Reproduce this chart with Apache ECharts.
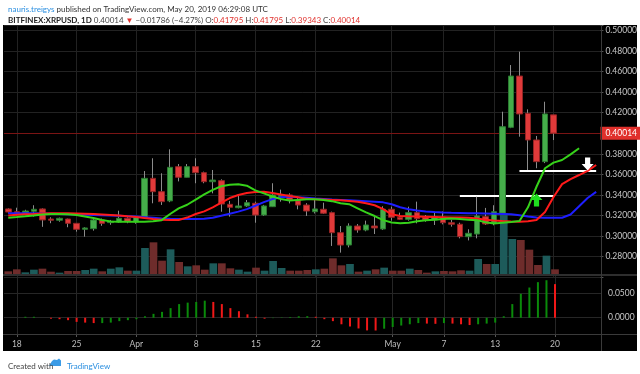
<!DOCTYPE html>
<html><head><meta charset="utf-8">
<script src="https://cdn.jsdelivr.net/npm/echarts@6/dist/echarts.min.js"></script>
<style>html,body{margin:0;padding:0;background:#fff}#c{width:640px;height:374px}</style>
</head><body><div id="c"></div>
<script>
// ---- categories (daily, incl. empty future days for the shifted Alligator lines)
const dates = ['Mar 17','Mar 18','Mar 19','Mar 20','Mar 21','Mar 22','Mar 23','Mar 24','Mar 25','Mar 26','Mar 27','Mar 28','Mar 29','Mar 30','Mar 31',
'Apr 1','Apr 2','Apr 3','Apr 4','Apr 5','Apr 6','Apr 7','Apr 8','Apr 9','Apr 10','Apr 11','Apr 12','Apr 13','Apr 14','Apr 15','Apr 16','Apr 17','Apr 18','Apr 19','Apr 20','Apr 21','Apr 22','Apr 23','Apr 24','Apr 25','Apr 26','Apr 27','Apr 28','Apr 29','Apr 30',
'May 1','May 2','May 3','May 4','May 5','May 6','May 7','May 8','May 9','May 10','May 11','May 12','May 13','May 14','May 15','May 16','May 17','May 18','May 19','May 20','May 21','May 22','May 23','May 24','May 25'];
const tickDates  = ['Mar 18','Mar 25','Apr 1','Apr 8','Apr 15','Apr 22','May 1','May 7','May 13','May 20'];
const tickLabels = ['18','25','Apr','8','15','22','May','7','13','20'];

// ---- OHLC (Mar 17 .. May 20)
const opens  = [0.3264,0.3237,0.3224,0.3241,0.3264,0.3166,0.3154,0.3166,0.3124,0.3066,0.3072,0.3157,0.3131,0.3137,0.3173,
0.3137,0.3179,0.3562,0.3432,0.3342,0.3675,0.3572,0.3675,0.3617,0.3529,0.3539,0.3309,0.3276,0.3293,0.3319,0.3205,0.3286,0.3384,0.3400,0.3344,0.3302,0.3237,0.3261,0.3228,0.3033,0.2913,0.3098,0.3059,0.3098,0.3069,
0.3261,0.3183,0.3163,0.3228,0.3183,0.3157,0.3183,0.3130,0.3115,0.2994,0.3020,0.3189,0.3124,0.3222,0.4058,0.4557,0.4194,0.3935,0.3724,0.41795];
const closes = [0.3234,0.3224,0.3244,0.3261,0.3157,0.3154,0.3173,0.3124,0.3066,0.3079,0.3157,0.3124,0.3144,0.3173,0.3140,
0.3183,0.3562,0.3432,0.3335,0.3669,0.3572,0.3675,0.3617,0.3529,0.3545,0.3312,0.3280,0.3293,0.3325,0.3205,0.3293,0.3400,0.3400,0.3351,0.3302,0.3244,0.3264,0.3222,0.3033,0.2913,0.3098,0.3059,0.3108,0.3079,0.3261,
0.3183,0.3163,0.3228,0.3169,0.3157,0.3189,0.3130,0.3115,0.2994,0.3027,0.3196,0.3118,0.3237,0.4064,0.4557,0.4188,0.3935,0.3724,0.4188,0.40014];
const highs  = [0.3270,0.3276,0.3256,0.3300,0.3270,0.3183,0.3180,0.3170,0.3126,0.3086,0.3169,0.3170,0.3157,0.3247,0.3183,
0.3195,0.3633,0.3757,0.3611,0.3844,0.3701,0.3701,0.3757,0.3627,0.3643,0.3552,0.3342,0.3400,0.3351,0.3335,0.3303,0.3514,0.3452,0.3416,0.3370,0.3320,0.3358,0.3325,0.3238,0.3098,0.3124,0.3117,0.3150,0.3189,0.3290,
0.3286,0.3228,0.3286,0.3335,0.3205,0.3237,0.3240,0.3157,0.3130,0.3066,0.3383,0.3274,0.3300,0.4210,0.4664,0.4794,0.4233,0.3974,0.4307,0.41795];
const lows   = [0.3220,0.3202,0.3214,0.3190,0.3090,0.3125,0.3140,0.3086,0.3043,0.2994,0.3053,0.3100,0.3110,0.3130,0.3125,
0.3120,0.3173,0.3319,0.3303,0.3330,0.3532,0.3572,0.3514,0.3514,0.3416,0.3237,0.3189,0.3270,0.3283,0.3130,0.3196,0.3283,0.3335,0.3318,0.3260,0.3196,0.3220,0.3215,0.2904,0.2839,0.2890,0.3033,0.3047,0.3020,0.3059,
0.3150,0.3157,0.3150,0.3124,0.3140,0.3108,0.3114,0.3092,0.2978,0.2958,0.2978,0.3108,0.3105,0.3210,0.4050,0.3967,0.3643,0.3660,0.3710,0.39343];
const volumes = [8,14,5,13,16,7,4,9,9,12,16,8,16,20,10,
10,78,95,40,74,36,23,26,13,32,32,17,13,7,19,10,39,18,10,10,12,14,16,47,26,30,7,10,14,19,
10,10,16,12,4,8,9,8,11,10,45,30,30,182,105,102,73,27,55,14];
// ---- Awesome Oscillator
const ao = [null,null,0.002,0.002,0,-0.002,-0.003,-0.005,-0.0085,-0.010,-0.011,-0.011,-0.010,-0.007,-0.005,
-0.003,0.003,0.008,0.012,0.0197,0.028,0.031,0.0324,0.035,0.0324,0.028,0.0197,0.0134,0.007,0.002,-0.002,-0.0008,0.0008,0.0015,0.003,0.0032,0.002,-0.003,-0.007,-0.0134,-0.018,-0.022,-0.026,-0.0262,-0.0225,
-0.019,-0.016,-0.0134,-0.011,-0.012,-0.0125,-0.011,-0.012,-0.0134,-0.015,-0.0134,-0.012,-0.010,0.003,0.028,0.049,0.062,0.073,0.077,0.069];
// ---- Alligator lines (shifted forward)
const lips  = [0.3179,0.3185,0.3192,0.3200,0.3210,0.3215,0.3216,0.3212,0.3205,0.3190,0.3175,0.3157,0.3143,0.3140,0.3140,
0.3140,0.3140,0.3145,0.3155,0.3215,0.3270,0.3305,0.3355,0.3405,0.3450,0.3485,0.3500,0.3505,0.3490,0.3445,0.3415,0.3385,0.3360,0.3346,0.3352,0.3358,0.3358,0.3350,0.3340,0.3320,0.3310,0.3270,0.3230,0.3195,0.3155,
0.3132,0.3124,0.3130,0.3145,0.3155,0.3160,0.3165,0.3170,0.3165,0.3160,0.3155,0.3135,0.3122,0.3130,0.3138,0.3147,0.3280,0.3480,0.3660,0.3715,0.3740,0.3795,0.3854,null,null];
const teeth = [0.3200,0.3207,0.3213,0.3216,0.3220,0.3222,0.3222,0.3221,0.3220,0.3218,0.3214,0.3210,0.3205,0.3200,0.3192,
0.3185,0.3175,0.3166,0.3160,0.3157,0.3157,0.3180,0.3215,0.3240,0.3280,0.3325,0.3370,0.3400,0.3420,0.3430,0.3432,0.3420,0.3405,0.3390,0.3378,0.3362,0.3358,0.3356,0.3352,0.3348,0.3342,0.3334,0.3320,0.3300,0.3262,
0.3212,0.3195,0.3192,0.3190,0.3188,0.3186,0.3184,0.3182,0.3180,0.3178,0.3170,0.3160,0.3152,0.3146,0.3142,0.3140,0.3145,0.3157,0.3235,0.3380,0.3505,0.3555,0.3594,0.3635,0.3692];
const jaw   = [0.3222,0.3222,0.3222,0.3221,0.3220,0.3218,0.3216,0.3213,0.3210,0.3208,0.3205,0.3202,0.3200,0.3197,0.3194,
0.3190,0.3184,0.3178,0.3172,0.3168,0.3166,0.3166,0.3166,0.3168,0.3178,0.3198,0.3218,0.3238,0.3262,0.3295,0.3330,0.3360,0.3378,0.3385,0.3378,0.3372,0.3366,0.3361,0.3356,0.3352,0.3348,0.3344,0.3340,0.3335,0.3328,
0.3310,0.3280,0.3262,0.3248,0.3240,0.3234,0.3230,0.3227,0.3225,0.3223,0.3222,0.3220,0.3218,0.3216,0.3212,0.3202,0.3190,0.3180,0.3178,0.3178,0.3178,0.3210,0.3290,0.3370,0.3430];
// ---- annotations
const lastPrice = 0.40014;
const hLines = [['May 9','May 20',0.3390],['May 16','May 25',0.3633]];
const upArrow = ['May 18',0.3351];
const downArrow = ['May 24',0.3701];

const UP='#45ad4a', DN='#e03a3a', UPB='#2b7a31', DNB='#932424';
const GL=4, GW=598;
const isTick = (i)=> tickDates.indexOf(dates[i])>=0;

const wickData = opens.map((o,i)=>[o,closes[i],lows[i],highs[i]]);
const bodyData = opens.map((o,i)=>[o,closes[i],Math.min(o,closes[i]),Math.max(o,closes[i])]);
const volData = volumes.map((v,i)=>({value:v,itemStyle:{color: closes[i]>=opens[i] ? '#1d5b5a' : '#6e2c2b'}}));
const aoData = ao.map((v,i)=> v==null ? null : ({value:v,itemStyle:{color:(i>0 && ao[i-1]!=null && v<ao[i-1]) ? '#f01818' : '#0a8a0a'}}));

const upPath='path://M6,0 L12,6.5 L8.6,6.5 L8.6,13 L3.4,13 L3.4,6.5 L0,6.5 Z';
const downPath='path://M6,13 L12,6.5 L8.6,6.5 L8.6,0 L3.4,0 L3.4,6.5 L0,6.5 Z';

const chart = echarts.init(document.getElementById('c'));
const hiddenX = (g)=>({type:'category',gridIndex:g,data:dates,boundaryGap:true,show:false});
chart.setOption({
  animation:false,
  backgroundColor:'#ffffff',
  textStyle:{fontFamily:'Lato'},
  title:[
    {left:3,top:0,textStyle:{fontSize:8,fontWeight:'normal',fontFamily:'Lato',rich:{
      u:{color:'#2b8fe0',fontSize:8,fontFamily:'Lato'},t:{color:'#333',fontSize:8,fontFamily:'Lato'}}},
     text:'{u|nauris.treigys}{t| published on TradingView.com, May 20, 2019 06:29:08 UTC}'},
    {left:3,top:11,textStyle:{fontSize:8,fontWeight:'normal',fontFamily:'Lato',rich:{
      b:{color:'#222',fontSize:8,fontWeight:'bold',fontFamily:'Lato'},n:{color:'#444',fontSize:8,fontFamily:'Lato'},
      r:{color:'#e0302c',fontSize:8,fontFamily:'Lato'}}},
     text:'{b|BITFINEX:XRPUSD, 1D}{n| 0.40014 }{r|▼}{n| −0.01786 (−4.27%) O:}{r|0.41795}{n| H:}{r|0.41795}{n| L:}{r|0.39343}{n| C:}{r|0.40014}'},
    {left:3,top:357,text:'Created with',textStyle:{fontSize:8,fontWeight:'normal',color:'#444',fontFamily:'Lato'}},
    {left:62,top:357,text:'TradingView',textStyle:{fontSize:8,fontWeight:'normal',color:'#2b8fe0',fontFamily:'Lato'}}
  ],
  graphic:[
    {type:'rect',z:-1,shape:{x:3,y:25,width:634,height:326},style:{fill:'#000'}},
    {type:'line',z:100,shape:{x1:3,y1:275,x2:637,y2:275},style:{stroke:'#2e2e2e',lineWidth:2}},
    {type:'line',z:100,shape:{x1:3,y1:334.5,x2:637,y2:334.5},style:{stroke:'#3a3a3a',lineWidth:1}},
    {type:'line',z:100,shape:{x1:601.5,y1:25,x2:601.5,y2:351},style:{stroke:'#3a3a3a',lineWidth:1}},
    {type:'polygon',z:5,shape:{points:[[49,366],[52,361],[54,359.5],[57,360],[59,358.5],[61,360.5],[61,366]]},style:{fill:'#3b9be6'}}
  ],
  grid:[
    {left:GL,width:GW,top:25,height:252.2},
    {left:GL,width:GW,top:200,height:74},
    {left:GL,width:GW,top:269,height:73.1},
    {left:GL,width:GW,top:276,height:58}
  ],
  xAxis:[hiddenX(0),hiddenX(1),hiddenX(2),
    {type:'category',gridIndex:3,data:dates,boundaryGap:true,
     axisLine:{show:false},
     axisTick:{show:true,alignWithLabel:true,length:3,lineStyle:{color:'#555'},interval:(i)=>isTick(i)},
     axisLabel:{show:true,color:'#bdbdbd',fontSize:8.5,margin:6,fontFamily:'Lato',interval:(i)=>isTick(i),
       formatter:(v)=>{const k=tickDates.indexOf(v);return k>=0?tickLabels[k]:'';}},
     splitLine:{show:false}}
  ],
  yAxis:[
    {type:'value',gridIndex:0,position:'right',min:0.26,max:0.50535,interval:0.02,
     axisLine:{show:false},
     axisTick:{show:true,length:3,lineStyle:{color:'#555'}},
     axisLabel:{color:'#c8c8c8',fontSize:8.5,margin:5,fontFamily:'Lato',
       formatter:(v)=>{const r=Math.round(v/0.02);return (Math.abs(v/0.02-r)<1e-6 && v>0.27 && v<0.505)?v.toFixed(5):'';}},
     splitLine:{show:true,lineStyle:{color:'#222'}}},
    {type:'value',gridIndex:1,min:0,max:222,show:false},
    {type:'value',gridIndex:2,position:'right',min:-0.05,max:0.10,interval:0.05,
     axisLine:{show:false},axisTick:{show:false},splitLine:{show:false},
     axisLabel:{color:'#c8c8c8',fontSize:8.5,margin:6,fontFamily:'Lato',
       formatter:(v)=>(Math.abs(v)<1e-9)?'0.0000':(Math.abs(v-0.05)<1e-9?'0.0500':'')}},
    {type:'value',gridIndex:3,show:false}
  ],
  series:[
    {type:'bar',name:'vol',xAxisIndex:1,yAxisIndex:1,data:volData,barWidth:'90%',z:1,silent:true},
    {type:'candlestick',name:'wick',xAxisIndex:0,yAxisIndex:0,data:wickData,barWidth:1,z:2,silent:true,
     itemStyle:{color:'#8c8c8c',color0:'#8c8c8c',borderColor:'#8c8c8c',borderColor0:'#8c8c8c',borderWidth:1},
     markLine:{silent:true,symbol:'none',z:1,label:{show:false},
       lineStyle:{color:'#222',width:1,type:'solid'},
       data:tickDates.map(d=>({xAxis:d}))}},
    {type:'candlestick',name:'body',xAxisIndex:0,yAxisIndex:0,data:bodyData,barWidth:6,z:3,silent:true,
     itemStyle:{color:UP,color0:DN,borderColor:UPB,borderColor0:DNB,borderWidth:1},
     markLine:{silent:true,symbol:'none',z:2,
       data:[
         {yAxis:lastPrice,lineStyle:{color:'#7a1414',width:1,type:'solid'},
          label:{show:true,position:'end',distance:0,formatter:'0.40014',color:'#fff',backgroundColor:'#e0302c',
            fontSize:8.5,fontFamily:'Lato',padding:[2,4,2,5]}},
         ...hLines.map(h=>[{coord:[h[0],h[2]],lineStyle:{color:'#fff',width:2,type:'solid'},label:{show:false}},{coord:[h[1],h[2]]}])
       ]},
     markPoint:{silent:true,label:{show:false},data:[
       {coord:upArrow,symbol:upPath,symbolSize:[12,13],itemStyle:{color:'#1fe01f'}},
       {coord:downArrow,symbol:downPath,symbolSize:[12,13],itemStyle:{color:'#ffffff'}}
     ]}},
    {type:'line',name:'jaw',xAxisIndex:0,yAxisIndex:0,data:jaw,showSymbol:false,z:4,silent:true,lineStyle:{color:'#1e1eff',width:2}},
    {type:'line',name:'teeth',xAxisIndex:0,yAxisIndex:0,data:teeth,showSymbol:false,z:4,silent:true,lineStyle:{color:'#ff1a1a',width:2}},
    {type:'line',name:'lips',xAxisIndex:0,yAxisIndex:0,data:lips,showSymbol:false,z:4,silent:true,lineStyle:{color:'#36d21a',width:2}},
    {type:'bar',name:'ao',xAxisIndex:2,yAxisIndex:2,data:aoData,barWidth:2,z:3,silent:true,
     markLine:{silent:true,symbol:'none',z:1,label:{show:false},lineStyle:{color:'#262626',width:1,type:'solid'},
       data:[{yAxis:0},{yAxis:0.05},
         ...tickDates.map(d=>[{coord:[d,-0.0335]},{coord:[d,0.0856]}])]}},
    {type:'line',name:'dummy',xAxisIndex:3,yAxisIndex:3,data:dates.map(()=>null),showSymbol:false,silent:true}
  ]
});
</script>
</body></html>
